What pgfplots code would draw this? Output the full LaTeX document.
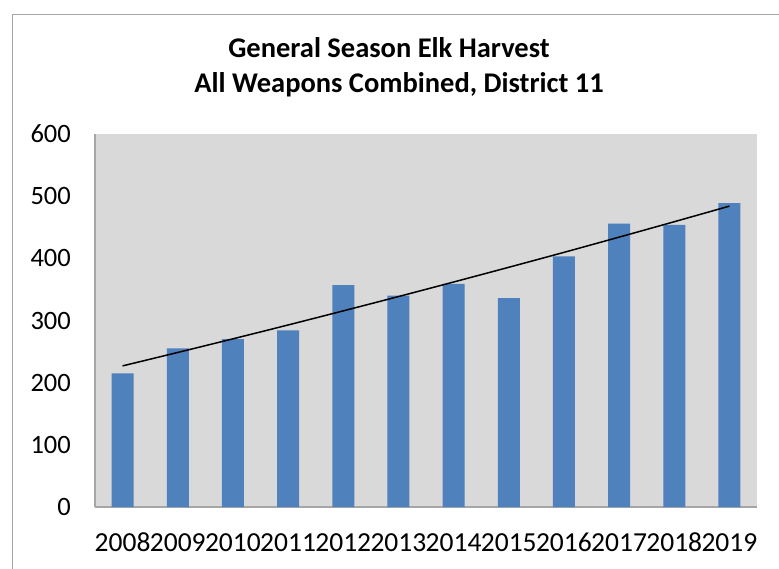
\documentclass[border=0pt]{standalone}
\usepackage{pgfplots}
\pgfplotsset{compat=1.18}
\usepackage{fontspec}
\setmainfont{Carlito}
\definecolor{barblue}{HTML}{4F81BD}
\definecolor{plotbg}{HTML}{D9D9D9}
\definecolor{frame}{HTML}{A6A6A6}
\begin{document}
\begin{tikzpicture}[x=1pt,y=1pt]
\useasboundingbox (0,0) rectangle (779,568);
\draw[color=frame, line width=1.5pt] (12.5,-5) -- (12.5,553.5) -- (790,553.5);
\node[font=\fontsize{28.5}{28.5}\selectfont\bfseries] at (389,520) {General Season Elk Harvest};
\node[font=\fontsize{28.5}{28.5}\selectfont\bfseries] at (399,483) {All Weapons Combined, District 11};
\begin{axis}[
  at={(95pt,61pt)}, anchor=south west,
  scale only axis, width=662pt, height=373pt,
  xmin=-0.5, xmax=11.5, ymin=0, ymax=600,
  ytick={0,100,...,600},
  xtick={0,...,11},
  xticklabels={2008,2009,2010,2011,2012,2013,2014,2015,2016,2017,2018,2019},
  axis background/.style={fill=plotbg},
  axis lines*=left,
  axis line style={color=frame, line width=1.2pt},
  major tick length=0pt,
  /pgf/number format/assume math mode=true,
  yticklabel style={font=\fontsize{26.5}{26.5}\selectfont, inner sep=0pt, anchor=east, xshift=-24pt},
  xticklabel style={font=\fontsize{27.5}{27.5}\selectfont, inner sep=0pt, anchor=north, yshift=-26pt},
]
\addplot[ybar, bar width=22pt, fill=barblue, draw=none] coordinates {
 (0,215) (1,255) (2,270) (3,284) (4,357) (5,340) (6,359) (7,336) (8,403) (9,456) (10,454) (11,489)};
\addplot[black, line width=1.5pt, smooth, mark=none] coordinates {
 (0,227) (1,248.6) (2,270.5) (3,292.8) (4,315.5) (5,338.5) (6,361.9) (7,385.6) (8,409.6) (9,434.1) (10,458.9) (11,484)};
\end{axis}
\end{tikzpicture}
\end{document}
